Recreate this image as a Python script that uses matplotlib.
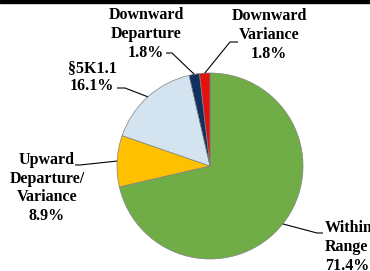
"""Pie chart of sentencing outcomes relative to the guideline range."""
import numpy as np
import matplotlib.pyplot as plt
from matplotlib.patches import Rectangle

W, H = 370, 271

# --- Data ---
labels = ["Within\nRange", "Upward\nDeparture/\nVariance", "\u00a75K1.1",
          "Downward\nDeparture", "Downward\nVariance"]
shares = [71.4, 8.9, 16.1, 1.8, 1.8]
colors = ["#70AD47", "#FFC000", "#D3E4F0", "#10305F", "#E2120F"]

fig = plt.figure(figsize=(W / 100, H / 100), dpi=100)
ax = fig.add_axes([0, 0, 1, 1])

cx, cy, r = 210, H - 166, 93
wedges, _ = ax.pie(shares, colors=colors, startangle=90, counterclock=False,
                   center=(cx, cy), radius=r, frame=True,
                   wedgeprops=dict(edgecolor="#808080", linewidth=0.5))
ax.set_xlim(0, W)
ax.set_ylim(0, H)
ax.set_aspect("equal")
ax.axis("off")

# label layout: (text x, text y from top, ha, elbow start, elbow end) in pixels
layout = [
    (325, 247, "left", (323, 233), (317, 233)),
    (47, 188, "center", (75, 165), (80, 165)),
    (92, 77, "center", (117, 88), (125, 88)),
    (146, 34, "center", (166, 53), (172, 53)),
    (269, 35, "center", (238, 42), (230, 42)),
]

font = dict(family=["Liberation Serif", "DejaVu Serif"], fontweight="bold",
            fontsize=11.5, linespacing=1.22)

for w, lab, val, (tx, ty, ha, e0, e1) in zip(wedges, labels, shares, layout):
    mid = np.deg2rad((w.theta1 + w.theta2) / 2)
    px, py = cx + r * np.cos(mid), cy + r * np.sin(mid)
    ax.plot([e0[0], e1[0], px], [H - e0[1], H - e1[1], py],
            color="black", lw=0.8, solid_capstyle="butt")
    ax.text(tx, H - ty, f"{lab}\n{val:.1f}%", ha=ha, va="center", **font)

# dark strip along the top edge
ax.add_patch(Rectangle((0, H - 3), W, 3, color="black", clip_on=False))

fig.savefig("out.png", dpi=100)
plt.close(fig)
